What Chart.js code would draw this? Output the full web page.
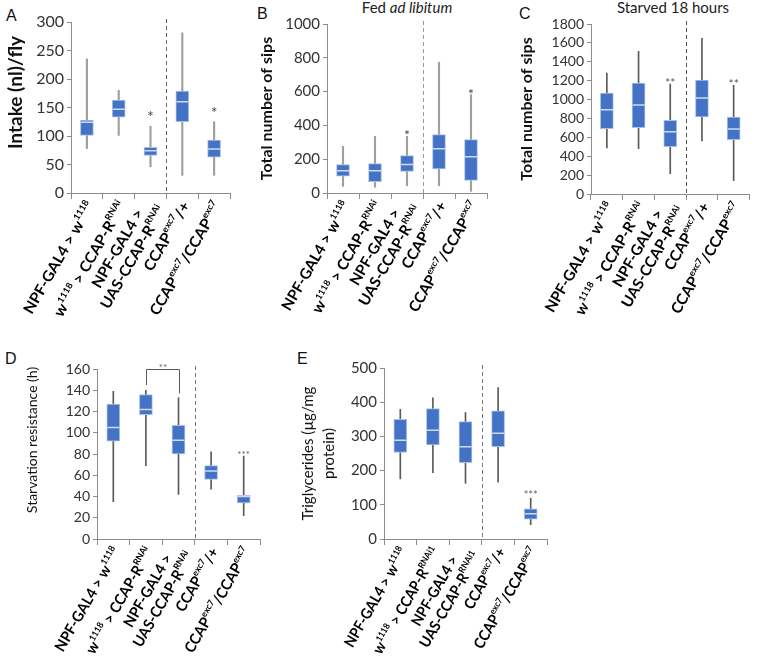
<!DOCTYPE html>
<html>
<head>
<meta charset="utf-8">
<script src="https://cdn.jsdelivr.net/npm/chart.js@4.4.0/dist/chart.umd.min.js"></script>
<style>
body{margin:0;background:#fff;width:757px;height:663px;position:relative;overflow:hidden}
canvas{position:absolute}
.let{position:absolute;font:16px "Liberation Sans",Arial,sans-serif;color:#111}
.ttl{position:absolute;font:15px Lato,sans-serif;color:#222;white-space:nowrap;transform:translateX(-50%)}
</style>
</head>
<body>
<div class="let" style="left:6px;top:7px">A</div>
<div class="let" style="left:257px;top:5px">B</div>
<div class="let" style="left:519px;top:5px">C</div>
<div class="let" style="left:5px;top:350px">D</div>
<div class="let" style="left:297px;top:350px">E</div>
<div class="ttl" style="left:407px;top:-2px">Fed <i>ad libitum</i></div>
<div class="ttl" style="left:673px;top:-2px">Starved 18 hours</div>

<canvas id="cA" width="240" height="340" style="left:0;top:0"></canvas>
<canvas id="cB" width="260" height="340" style="left:240px;top:0"></canvas>
<canvas id="cC" width="257" height="340" style="left:500px;top:0"></canvas>
<canvas id="cD" width="290" height="323" style="left:0;top:340px"></canvas>
<canvas id="cE" width="270" height="323" style="left:290px;top:340px"></canvas>

<script>
// genotype labels, ^{..} marks superscript, arrays are multi-line labels
var genotypes = ['NPF-GAL4 > w^{1118}', 'w^{1118} > CCAP-R^{RNAi}', ['NPF-GAL4 >', 'UAS-CCAP-R^{RNAi}'], 'CCAP^{exc7}/+', 'CCAP^{exc7}/CCAP^{exc7}'];
var genotypesE = ['NPF-GAL4 > w^{1118}', 'w^{1118} > CCAP-R^{RNAi1}', ['NPF-GAL4 >', 'UAS-CCAP-R^{RNAi1}'], 'CCAP^{exc7}/+', 'CCAP^{exc7}/CCAP^{exc7}'];

// A - intake
var intakeMin = [78, 101, 46, 31, 31];
var intakeQ1  = [101, 133, 66, 125, 63];
var intakeMed = [124, 147, 74, 160, 77];
var intakeQ3  = [128, 163, 80, 179, 93];
var intakeMax = [235, 180, 117, 281, 125];
var intakeSig = ['', '', '*', '', '*'];

// B - sips, fed
var fedMin = [39, 34, 43, 43, 10];
var fedQ1  = [99, 67, 128, 142, 75];
var fedMed = [132, 132, 168, 262, 215];
var fedQ3  = [168, 174, 221, 345, 316];
var fedMax = [276, 335, 335, 773, 582];
var fedSig = ['', '', '*', '', '*'];

// C - sips, starved
var starvMin = [487, 480, 215, 561, 141];
var starvQ1  = [692, 702, 501, 815, 575];
var starvMed = [893, 942, 660, 1017, 688];
var starvQ3  = [1069, 1175, 780, 1207, 815];
var starvMax = [1281, 1511, 1165, 1648, 1151];
var starvSig = ['', '', '**', '', '**'];

// D - starvation resistance
var survMin = [35, 69, 42, 47, 22];
var survQ1  = [92, 117, 80, 56, 34];
var survMed = [105, 122, 93, 64, 40];
var survQ3  = [127, 136, 107, 69, 41];
var survMax = [139, 140, 133, 82, 78];
var survSig = ['', '', '', '', '***'];

// E - triglycerides
var tagMin = [176, 194, 163, 166, 42];
var tagQ1  = [253, 275, 223, 270, 58];
var tagMed = [289, 318, 270, 309, 74];
var tagQ3  = [350, 381, 343, 375, 88];
var tagMax = [379, 413, 370, 443, 119];
var tagSig = ['', '', '', '', '***'];

Chart.defaults.font.family = 'Lato, "Open Sans", sans-serif';
Chart.defaults.font.size = 14;
Chart.defaults.color = '#333';

var BOX = '#4472c4', BOXLINE = '#a8c1ea', MED = '#cddbf3', AXIS = '#8c8c8c';

function segs(s) {
  var out = [], re = /\^\{([^}]*)\}/g, last = 0, m;
  while ((m = re.exec(s))) {
    if (m.index > last) out.push({t: s.slice(last, m.index), sup: false});
    out.push({t: m[1], sup: true});
    last = re.lastIndex;
  }
  if (last < s.length) out.push({t: s.slice(last), sup: false});
  return out;
}

function supFont(p, size) {
  return 'bold ' + (p.sup ? Math.round(size * 0.62) : size) + 'px Lato, sans-serif';
}

function richWidth(ctx, s, size) {
  var w = 0;
  segs(s).forEach(function(p) { ctx.font = supFont(p, size); w += ctx.measureText(p.t).width; });
  return w;
}

function drawRich(ctx, s, x, y, size) {
  segs(s).forEach(function(p) {
    ctx.font = supFont(p, size);
    ctx.fillText(p.t, x, p.sup ? y - size * 0.33 : y);
    x += ctx.measureText(p.t).width;
  });
}

function extras(cfg) {
  return {
    id: 'extras' + cfg.id,
    afterDraw: function(chart) {
      var ctx = chart.ctx, xs = chart.scales.x, ys = chart.scales.y, a = chart.chartArea;
      ctx.save();
      // dashed separator between controls and mutants
      var xm = Math.round((xs.getPixelForValue(2) + xs.getPixelForValue(3)) / 2) + 0.5;
      ctx.strokeStyle = cfg.dash; ctx.lineWidth = 1; ctx.setLineDash([4, 3]);
      ctx.beginPath(); ctx.moveTo(xm, a.top - 3); ctx.lineTo(xm, a.bottom); ctx.stroke();
      ctx.setLineDash([]);

      // significance stars
      ctx.fillStyle = cfg.starColor; ctx.font = cfg.starFont;
      ctx.textAlign = 'center'; ctx.textBaseline = 'alphabetic';
      cfg.sig.forEach(function(s, i) {
        if (s) ctx.fillText(s, xs.getPixelForValue(i), ys.getPixelForValue(cfg.max[i]) + cfg.starOff);
      });

      if (cfg.bracket) {
        var b = cfg.bracket;
        var x1 = Math.round(xs.getPixelForValue(b.from)) + 0.5, x2 = Math.round(xs.getPixelForValue(b.to)) + 0.5;
        var yt = Math.round(ys.getPixelForValue(b.top)) + 0.5;
        ctx.strokeStyle = '#595959'; ctx.lineWidth = 1;
        ctx.beginPath();
        ctx.moveTo(x1, ys.getPixelForValue(b.left)); ctx.lineTo(x1, yt);
        ctx.lineTo(x2, yt); ctx.lineTo(x2, ys.getPixelForValue(b.right));
        ctx.stroke();
        ctx.fillText(b.label, (x1 + x2) / 2, yt + cfg.starOff - 1);
      }

      // y axis title
      var t = cfg.title;
      ctx.save();
      ctx.translate(t.x, (a.top + a.bottom) / 2 + t.shift);
      ctx.rotate(-Math.PI / 2);
      ctx.font = t.font; ctx.fillStyle = '#111';
      ctx.textAlign = 'center'; ctx.textBaseline = 'middle';
      t.lines.forEach(function(l, k) { ctx.fillText(l, 0, k * t.lh); });
      ctx.restore();

      // rotated genotype labels; stretched along the baseline so the
      // second label has the length it has in the original figure
      var size = 15, lh = 18;
      var stretch = cfg.labLen / richWidth(ctx, cfg.labels[1], size);
      ctx.fillStyle = '#000'; ctx.textAlign = 'left'; ctx.textBaseline = 'middle';
      cfg.labels.forEach(function(lab, i) {
        var lines = Array.isArray(lab) ? lab : [lab];
        var ws = lines.map(function(l) { return richWidth(ctx, l, size); });
        var bw = Math.max.apply(null, ws);
        ctx.save();
        ctx.translate(xs.getPixelForValue(i) + 4, xs.top + 10);
        ctx.rotate(-Math.PI / 3);
        ctx.scale(stretch, 1);
        lines.forEach(function(l, k) {
          var y = (k - (lines.length - 1) / 2) * lh;
          drawRich(ctx, l, -(bw - ws[k]) / 2 - ws[k], y, size);
        });
        ctx.restore();
      });
      ctx.restore();
    }
  };
}

function makePanel(cfg) {
  var n = cfg.med.length;
  var whisk = [], box = [];
  for (var i = 0; i < n; i++) {
    whisk.push([cfg.min[i], cfg.max[i]]);
    box.push([cfg.q1[i], cfg.q3[i]]);
  }
  return new Chart(document.getElementById(cfg.id), {
    type: 'bar',
    data: {
      labels: cfg.labels.map(function(l, i) { return 'g' + i; }),
      datasets: [
        {data: whisk, backgroundColor: cfg.whiskColor, barThickness: cfg.whiskW, grouped: false, order: 2, borderWidth: 0},
        {data: box, backgroundColor: BOX, borderColor: BOXLINE, borderWidth: 1, borderSkipped: false,
         barThickness: 13, grouped: false, order: 1},
        {type: 'line', data: cfg.med, showLine: false, pointStyle: 'line', pointRadius: 6,
         pointBorderColor: MED, pointBorderWidth: 1.5, pointBackgroundColor: MED, order: 0}
      ]
    },
    options: {
      responsive: false,
      animation: false,
      events: [],
      layout: {padding: {top: cfg.pad[0], right: cfg.pad[1], bottom: cfg.pad[2], left: 0}},
      plugins: {legend: {display: false}, tooltip: {enabled: false}},
      scales: {
        x: {
          offset: true,
          grid: {offset: true, drawOnChartArea: false, tickLength: 6, color: AXIS},
          border: {color: AXIS},
          ticks: {display: false},
          afterFit: function(s) { s.height = 6; }
        },
        y: {
          min: 0, max: cfg.yMax,
          ticks: {stepSize: cfg.yStep, autoSkip: false, padding: 3, color: '#333', font: {size: cfg.tickSize},
                  callback: function(v) { return String(v); }},
          grid: {drawOnChartArea: false, tickLength: 4, color: AXIS},
          border: {color: AXIS},
          afterFit: function(s) { s.width = cfg.yW; }
        }
      }
    },
    plugins: [extras(cfg)]
  });
}

makePanel({id: 'cA', labels: genotypes, min: intakeMin, q1: intakeQ1, med: intakeMed, q3: intakeQ3, max: intakeMax,
  sig: intakeSig, yMax: 300, yStep: 50, yW: 71, pad: [22, 10, 141], tickSize: 16, labLen: 130,
  whiskColor: '#a0a0a0', whiskW: 1.5, dash: '#666', starColor: '#444', starFont: '16px Lato', starOff: -4,
  title: {lines: ['Intake (nl)/fly'], font: 'bold 19px Lato', x: 16, shift: -15, lh: 20}});

makePanel({id: 'cB', labels: genotypes, min: fedMin, q1: fedQ1, med: fedMed, q3: fedQ3, max: fedMax,
  sig: fedSig, yMax: 1000, yStep: 200, yW: 87, pad: [24, 13, 141], tickSize: 15, labLen: 126,
  whiskColor: '#a0a0a0', whiskW: 1.5, dash: '#9a9a9a', starColor: '#444', starFont: '14px Lato', starOff: 4,
  title: {lines: ['Total number of sips'], font: 'bold 16px Lato', x: 27, shift: 0, lh: 18}});

makePanel({id: 'cC', labels: genotypes, min: starvMin, q1: starvQ1, med: starvMed, q3: starvQ3, max: starvMax,
  sig: starvSig, yMax: 1800, yStep: 200, yW: 91, pad: [24, 2, 140], tickSize: 14, labLen: 127,
  whiskColor: '#5a5a5a', whiskW: 1, dash: '#555', starColor: '#555', starFont: '12px Lato', starOff: 3,
  title: {lines: ['Total number of sips'], font: 'bold 16px Lato', x: 27, shift: 0, lh: 18}});

makePanel({id: 'cD', labels: genotypes, min: survMin, q1: survQ1, med: survMed, q3: survQ3, max: survMax,
  sig: survSig, yMax: 160, yStep: 20, yW: 97, pad: [29, 30, 118], tickSize: 14, labLen: 120,
  whiskColor: '#5a5a5a', whiskW: 1, dash: '#777', starColor: '#666', starFont: '10px Lato', starOff: 2,
  bracket: {from: 1, to: 2, top: 160, left: 145, right: 137, label: '**'},
  title: {lines: ['Starvation resistance (h)'], font: '14px Lato', x: 32, shift: -14, lh: 18}});

makePanel({id: 'cE', labels: genotypesE, min: tagMin, q1: tagQ1, med: tagMed, q3: tagQ3, max: tagMax,
  sig: tagSig, yMax: 500, yStep: 100, yW: 94, pad: [28, 13, 118], tickSize: 15, labLen: 120,
  whiskColor: '#5a5a5a', whiskW: 1, dash: '#777', starColor: '#666', starFont: '11px Lato', starOff: 1,
  title: {lines: ['Triglycerides (\u00b5g/mg', 'protein)'], font: '15px Lato', x: 18, shift: 0, lh: 21}});
</script>
</body>
</html>
